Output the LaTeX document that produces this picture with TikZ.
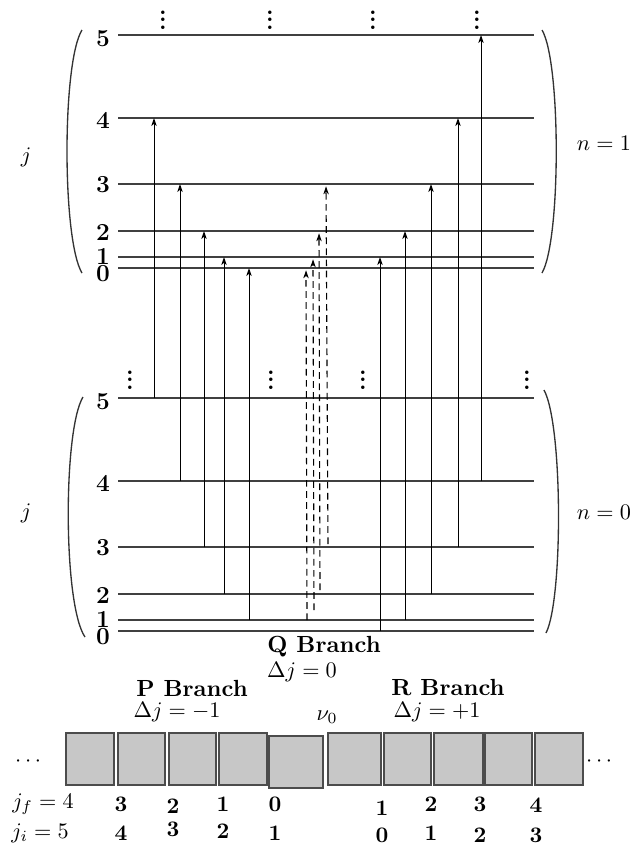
\documentclass[tikz,border=0pt]{standalone}
\usepackage{amsmath}
\usepackage{amssymb}
\usetikzlibrary{arrows.meta,calc,positioning}

\newcommand{\vdt}{\vbox{\baselineskip3.3pt\lineskiplimit0pt
  \hbox{\bfseries .}\hbox{\bfseries .}\hbox{\bfseries .}}}

\begin{document}
\begin{tikzpicture}[
    x=0.45pt, y=-0.45pt,
    >={Stealth[length=3.6pt,width=2.4pt,inset=1pt]},
    rung/.style   = {draw=black!75, line width=0.6pt},
    trans/.style  = {->, line width=0.45pt},
    qtrans/.style = {->, dash pattern=on 3pt off 2pt, line width=0.5pt, shorten >=1pt},
    brak/.style   = {draw=black!80, line width=0.6pt},
    lvl/.style    = {font=\fontsize{11}{13}\selectfont\bfseries, inner sep=1pt},
    vd/.style     = {inner sep=0pt},
    branch/.style = {font=\fontsize{10.5}{12}\selectfont\bfseries, inner sep=1pt},
    lbl/.style    = {inner sep=1pt},
    slot/.style   = {draw=black!70, fill=black!22, line width=0.5pt}
  ]
  \useasboundingbox (0,0) rectangle (631,845);

  %–––– energy levels (upper: n=1, lower: n=0) ––––
  \foreach \j/\h in {5/35,4/118,3/184,2/231,1/257,0/268} {
    \coordinate (up\j) at (118,\h);
    \coordinate (lo\j) at (118,\h+363);
    \draw[rung] (up\j) -- ++(416,0);
    \draw[rung] (lo\j) -- ++(416,0);
  }

  % level numbers
  \foreach \j/\h in {5/39,4/120,3/185,2/232,1/256,0/274} {
    \node[lvl] (nu\j) at (103,\h) {\j};
    \node[lvl] (nl\j) at (103,\h+363) {\j};
  }

  % continuation dots
  \foreach \x [count=\i] in {163,270,373,477}
    \node[vd] (du\i) at (\x,20) {\vdt};
  \foreach \x [count=\i] in {130,271,363,527}
    \node[vd] (dl\i) at (\x,380) {\vdt};

  % brackets
  \draw[brak] (82,30) .. controls (62,62) and (62,240) .. (82,273);
  \draw[brak] (542,30) .. controls (561,62) and (561,240) .. (542,273);
  \draw[brak] (83,397) .. controls (63,430) and (63,605) .. (85,637);
  \draw[brak] (544,390) .. controls (563,425) and (563,600) .. (546,633);

  \node[lbl] (ju) at (26,157) {$j$};
  \node[lbl] (jl) at (26,513) {$j$};
  \node[lbl] (n1) at (604,143) {$n=1$};
  \node[lbl] (n0) at (604,512) {$n=0$};

  %–––– P and R branch ––––
  \foreach \x/\a/\b in {154/5/4,180/4/3,204/3/2,224/2/1,249/1/0,
                        380/0/1,405/1/2,431/2/3,458/3/4,481/4/5}
    \draw[trans] (lo\a -| \x,0) -- (up\b -| \x,0);

  %–––– Q branch ––––
  \foreach \xa/\xb/\a/\b/\s in {307/306/1/0/0,314/313/1/1/10,320/319/2/2/4,328/326/3/3/3}
    \draw[qtrans] ($(lo\a -| \xa,0)+(0,-\s)$) -- (up\b -| \xb,0);

  %–––– spectrum ––––
  \node[branch] (Q)  at (324,647) {Q Branch};
  \node[lbl]    (Qd) at (302,672) {$\Delta j=0$};
  \node[branch] (P)  at (192,688) {P Branch};
  \node[lbl]    (Pd) at (177,712) {$\Delta j=-1$};
  \node[lbl]    (nu) at (327,717) {$\nu_0$};
  \node[branch] (R)  at (448,688) {R Branch};
  \node[lbl]    (Rd) at (437,712) {$\Delta j=+1$};

  \foreach \a/\b in {66/114,118/165,169/216,219/267,328/381,384/431,434/483,485/532,535/583}
    \draw[slot] (\a,733) rectangle (\b,785);
  \draw[slot] (269,736) rectangle (323,788);

  \node[lbl] (el) at (30,762) {$\cdots$};
  \node[lbl] (er) at (601,762) {$\cdots$};

  % final and initial j
  \node[lbl] (jf) at (43,804) {$j_f=4$};
  \node[lbl] (ji) at (40,833) {$j_i=5$};
  \foreach \x/\f/\yf/\i/\yi in {121/3/804/4/833,173/2/806/3/829,223/1/804/2/831,275/0/804/1/833,
                                382/1/808/0/835,431/2/804/1/833,480/3/804/2/835,536/4/805/3/835} {
    \node[lbl,font=\bfseries] (f\x) at (\x,\yf) {\f};
    \node[lbl,font=\bfseries] (i\x) at (\x,\yi) {\i};
  }

\end{tikzpicture}
\end{document}
